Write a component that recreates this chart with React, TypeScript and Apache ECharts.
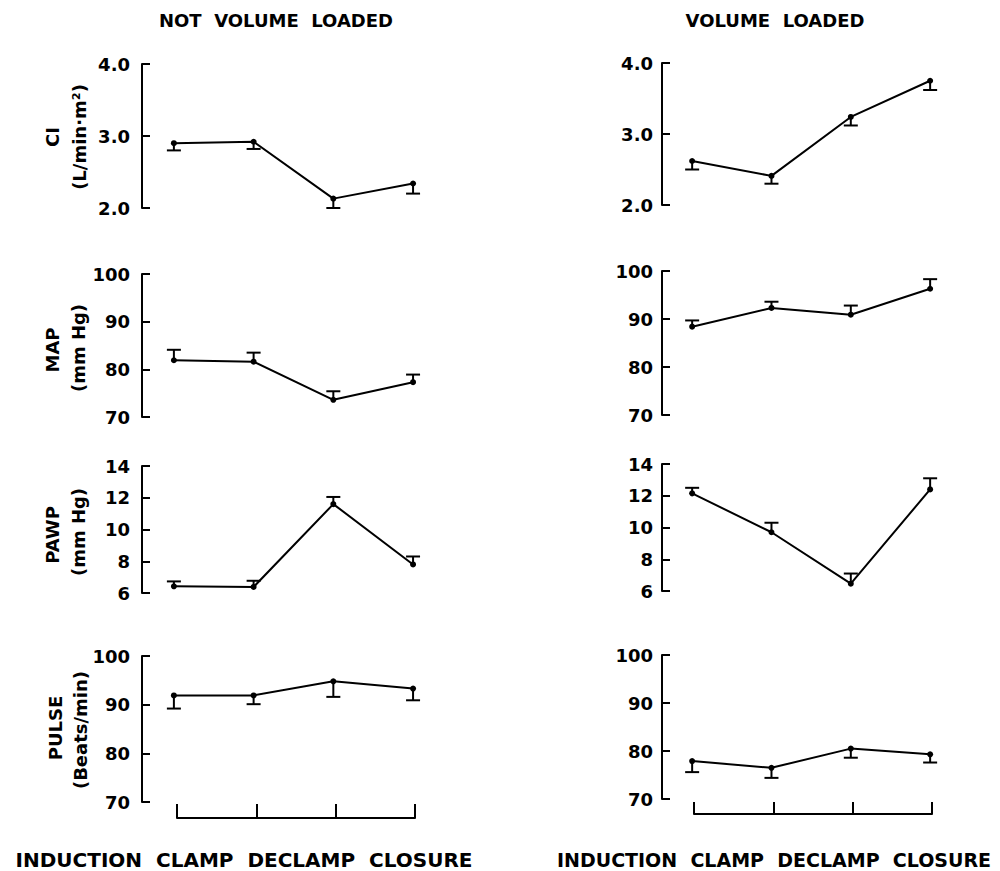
import React, { useEffect, useRef } from "react";
import * as echarts from "echarts";

const categories = ["INDUCTION", "CLAMP", "DECLAMP", "CLOSURE"];

// Not volume loaded (left column)
const nlCI = [2.9, 2.92, 2.13, 2.34];
const nlCIErr = [2.8, 2.82, 2.0, 2.2];
const nlMAP = [81.9, 81.6, 73.6, 77.3];
const nlMAPErr = [84.1, 83.5, 75.4, 78.9];
const nlPAWP = [6.42, 6.38, 11.6, 7.8];
const nlPAWPErr = [6.73, 6.77, 12.05, 8.3];
const nlPULSE = [91.9, 91.9, 94.8, 93.3];
const nlPULSEErr = [89.2, 90.1, 91.6, 90.9];

// Volume loaded (right column)
const vlCI = [2.62, 2.41, 3.24, 3.75];
const vlCIErr = [2.5, 2.3, 3.12, 3.62];
const vlMAP = [88.4, 92.3, 90.9, 96.3];
const vlMAPErr = [89.7, 93.6, 92.8, 98.3];
const vlPAWP = [12.15, 9.7, 6.46, 12.4];
const vlPAWPErr = [12.5, 10.3, 7.1, 13.1];
const vlPULSE = [77.9, 76.5, 80.5, 79.3];
const vlPULSEErr = [75.6, 74.4, 78.6, 77.6];

const ciTicks = { min: 2, max: 4, interval: 1 };
const mapTicks = { min: 70, max: 100, interval: 10 };
const pawpTicks = { min: 6, max: 14, interval: 2 };
const pulseTicks = { min: 70, max: 100, interval: 10 };

const FONT = "'DejaVu Sans', sans-serif";

export default function App() {
  const ref = useRef<HTMLDivElement>(null);
  useEffect(() => {
    document.body.style.margin = "0";
    const chart = echarts.init(ref.current!, null, { renderer: "svg" });

    const panels = [
      { col: 0, top: 64, h: 144, axis: ciTicks, mean: nlCI, err: nlCIErr, dec: 1 },
      { col: 0, top: 274, h: 143, axis: mapTicks, mean: nlMAP, err: nlMAPErr, dec: 0 },
      { col: 0, top: 466, h: 127, axis: pawpTicks, mean: nlPAWP, err: nlPAWPErr, dec: 0 },
      { col: 0, top: 656, h: 146, axis: pulseTicks, mean: nlPULSE, err: nlPULSEErr, dec: 0 },
      { col: 1, top: 63, h: 142, axis: ciTicks, mean: vlCI, err: vlCIErr, dec: 1 },
      { col: 1, top: 271, h: 144, axis: mapTicks, mean: vlMAP, err: vlMAPErr, dec: 0 },
      { col: 1, top: 464, h: 127, axis: pawpTicks, mean: vlPAWP, err: vlPAWPErr, dec: 0 },
      { col: 1, top: 655, h: 144, axis: pulseTicks, mean: vlPULSE, err: vlPULSEErr, dec: 0 },
    ];
    const cols = [
      { left: 142, width: 287, xmin: -0.4, xmax: 3.2, labelMargin: 12 },
      { left: 662, width: 284, xmin: -0.38, xmax: 3.2, labelMargin: 9 },
    ];

    const grid: any[] = [];
    const xAxis: any[] = [];
    const yAxis: any[] = [];
    const series: any[] = [];

    panels.forEach((p, i) => {
      const c = cols[p.col];
      grid.push({ left: c.left, top: p.top, width: c.width, height: p.h });
      xAxis.push({ type: "value", gridIndex: i, min: c.xmin, max: c.xmax, show: false });
      yAxis.push({
        type: "value",
        gridIndex: i,
        min: p.axis.min,
        max: p.axis.max,
        interval: p.axis.interval,
        splitLine: { show: false },
        axisLine: { show: true, onZero: false, lineStyle: { color: "#000", width: 2 } },
        axisTick: { show: true, inside: true, length: 8, lineStyle: { color: "#000", width: 2 } },
        axisLabel: {
          color: "#000",
          fontSize: 18,
          fontWeight: "bold",
          fontFamily: FONT,
          margin: c.labelMargin,
          formatter: (v: number) => v.toFixed(p.dec),
        },
      });
      series.push({
        type: "custom",
        xAxisIndex: i,
        yAxisIndex: i,
        data: p.mean.map((m, k) => [k, m, p.err[k]]),
        encode: { x: 0, y: [1, 2] },
        renderItem: (params: any, api: any) => {
          const a = api.coord([api.value(0), api.value(1)]);
          const b = api.coord([api.value(0), api.value(2)]);
          return {
            type: "group",
            children: [
              { type: "line", shape: { x1: a[0], y1: a[1], x2: b[0], y2: b[1] }, style: { stroke: "#000", lineWidth: 2 } },
              { type: "line", shape: { x1: b[0] - 7, y1: b[1], x2: b[0] + 7, y2: b[1] }, style: { stroke: "#000", lineWidth: 2 } },
            ],
          };
        },
        z: 3,
      });
      series.push({
        type: "line",
        xAxisIndex: i,
        yAxisIndex: i,
        data: p.mean.map((m, k) => [k, m]),
        symbol: "circle",
        symbolSize: 6,
        itemStyle: { color: "#000" },
        lineStyle: { color: "#000", width: 2 },
        z: 4,
      });
    });

    // bottom bracket axes
    const brackets = [
      { left: 177, width: 238, bottom: 818, tick: 14 },
      { left: 694, width: 238, bottom: 814, tick: 12 },
    ];
    brackets.forEach((b) => {
      const gi = grid.length;
      grid.push({ left: b.left, top: b.bottom - 20, width: b.width, height: 20 });
      xAxis.push({
        type: "category",
        gridIndex: gi,
        data: categories,
        boundaryGap: false,
        axisLine: { show: true, onZero: false, lineStyle: { color: "#000", width: 2 } },
        axisTick: { show: true, inside: true, interval: 0, length: b.tick, lineStyle: { color: "#000", width: 2 } },
        axisLabel: { show: false, interval: 0 },
        splitLine: { show: false },
      });
      yAxis.push({ type: "value", gridIndex: gi, show: false, min: 0, max: 1 });
    });

    const txt = (text: string, x: number, y: number, size: number, rot = 0) => ({
      type: "text",
      x,
      y,
      rotation: rot,
      style: {
        text,
        fill: "#000",
        fontSize: size,
        fontWeight: "bold",
        fontFamily: FONT,
        textAlign: "center",
        textVerticalAlign: "middle",
      },
    });

    const R = Math.PI / 2;
    const graphic = [
      txt("NOT  VOLUME  LOADED", 276, 20, 18),
      txt("VOLUME  LOADED", 775, 20, 18),
      txt("INDUCTION  CLAMP  DECLAMP  CLOSURE", 244, 860, 20),
      txt("INDUCTION  CLAMP  DECLAMP  CLOSURE", 774, 860, 19),
      txt("CI", 52, 137, 18, R),
      txt("(L/min·m²)", 79, 137, 18, R),
      txt("MAP", 52, 350, 18, R),
      txt("(mm Hg)", 78, 348, 18, R),
      txt("PAWP", 52, 535, 18, R),
      txt("(mm Hg)", 78, 532, 18, R),
      txt("PULSE", 55, 728, 18, R),
      txt("(Beats/min)", 80, 730, 18, R),
    ];

    chart.setOption({
      animation: false,
      backgroundColor: "#fff",
      grid,
      xAxis,
      yAxis,
      series,
      graphic,
    });
    return () => chart.dispose();
  }, []);
  return <div ref={ref} style={{ width: 1000, height: 871 }} />;
}
